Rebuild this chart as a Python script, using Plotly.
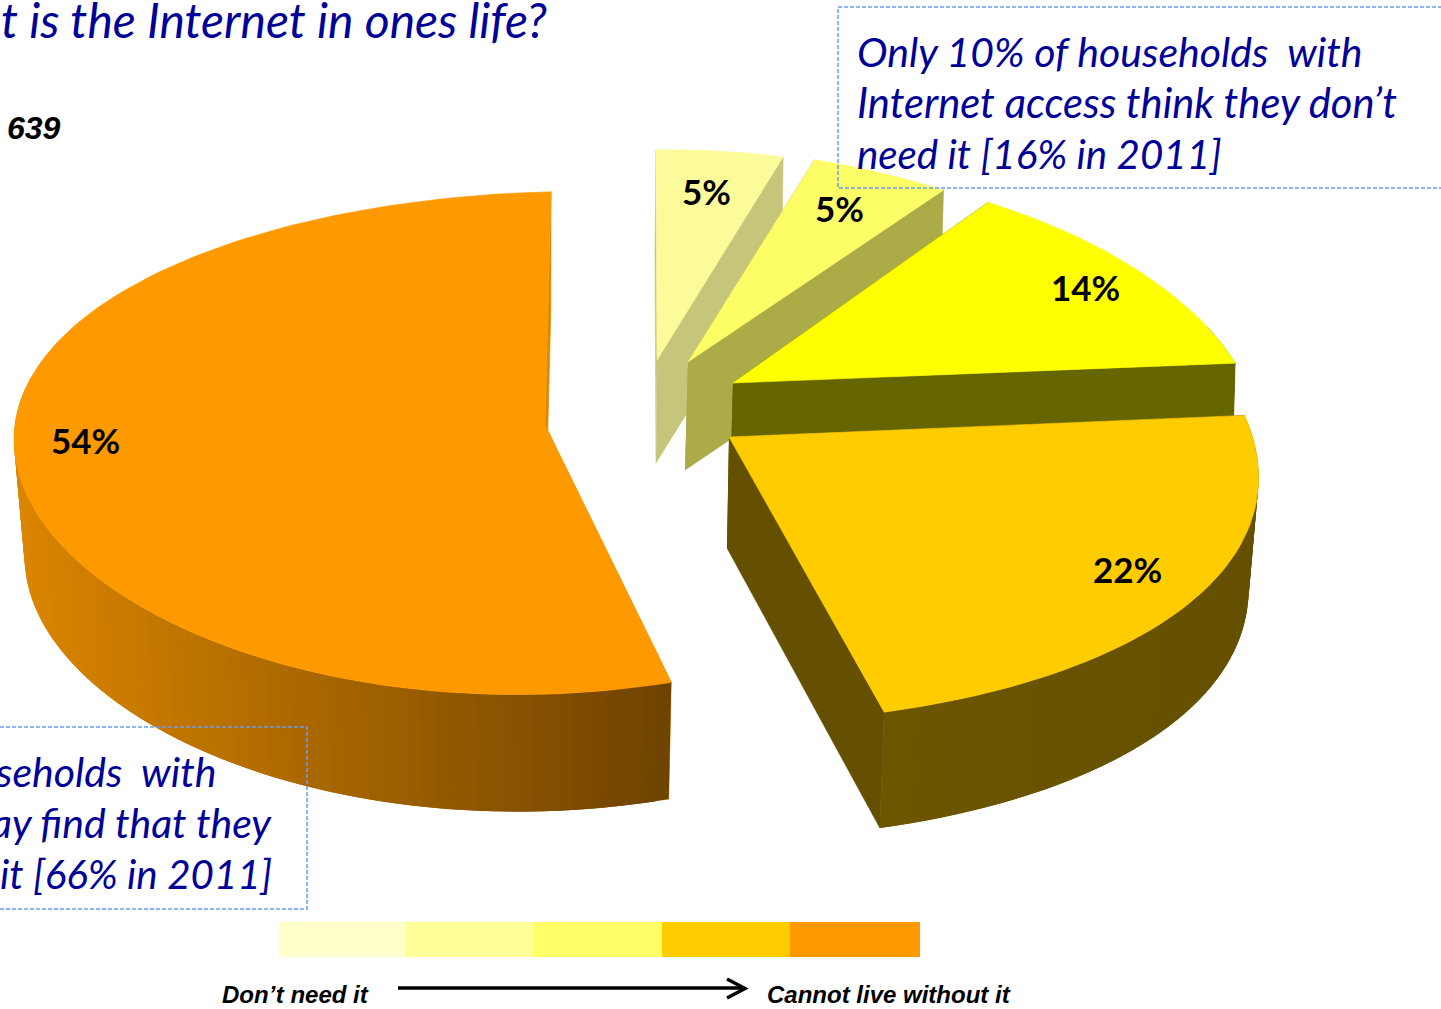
import numpy as np
import plotly.graph_objects as go

# Survey shares, listed from the back of the pie to the front
slice_labels = ["5%", "5%", "14%", "22%", "54%"]
slice_values = [5, 5, 14, 22, 54]
top_colors = ["#FBFB99", "#FDFD66", "#FFFF00", "#FFCC00", "#FF9900"]
wall_colors_left = ["#C6C67A", "#ABAB47", "#666600", "#6E5600", "#DB8500"]
wall_colors_right = ["#C6C67A", "#ABAB47", "#666600", "#645000", "#6E4200"]
cut_colors = ["#C6C67A", "#ABAB47", "#666600", "#645000", "#D98A00"]

# Rating scale shown below the pie
scale_colors = ["#FFFFCC", "#FFFF99", "#FFFF66", "#FFCC00", "#FF9900"]
scale_edges = [279, 406, 534, 662, 790, 920]
scale_low = "Don’t need it"
scale_high = "Cannot live without it"

# Projection of each exploded slice: apex, radii, perspective, shear and wall depth
GEOMETRY = [
    dict(x0=657, y0=360, a=497, b=224.7, kx=0.22, ky=0.07, s=-1, t=-8.7, d=103, dx=-1, tx=1.0, ty=1.0),
    dict(x0=688, y0=362, a=525, b=228.6, kx=0.22, ky=0.07, s=-8, t=5.3, d=108, dx=-3, tx=1.0, ty=1.0),
    dict(x0=733, y0=383, a=510, b=231.7, kx=0.217, ky=0.07, s=0, t=-5.4, d=108, dx=-3, tx=1.0, ty=1.0),
    dict(x0=729, y0=437, a=522, b=266, kx=0.169, ky=0.07, s=0, t=-5, d=111, dx=-2, tx=0.985, ty=1.018),
    dict(x0=545, y0=425, a=531, b=250, kx=0.0, ky=0.072, s=6, t=-12, d=117, dx=0, tx=0.98, ty=1.0),
]

LABEL_POS = [(706, 191), (839, 208), (1085, 287), (1127, 569), (85, 440)]
BLUE = "#000099"
BOX_BLUE = "#6C9AEE"


def project(g, theta, bottom=False):
    """Map clockwise angles on the pie circle to page coordinates."""
    X, Y = np.sin(theta), np.cos(theta)
    px = g["a"] * X / (1 + g["kx"] * Y) + g["s"] * Y
    py = -g["b"] * Y / (1 + g["ky"] * Y) + g["t"] * X
    if bottom:
        return g["x0"] + g["dx"] + px * g["tx"], g["y0"] + py * g["ty"] + g["d"]
    return g["x0"] + px, g["y0"] + py


def polygon(xs, ys, color, width=0.6):
    return go.Scatter(
        x=list(xs), y=list(ys), mode="lines", fill="toself", fillcolor=color,
        line=dict(color=color, width=width), hoverinfo="skip", showlegend=False,
    )


def mix(c1, c2, f):
    a = [int(c1[i:i + 2], 16) for i in (1, 3, 5)]
    b = [int(c2[i:i + 2], 16) for i in (1, 3, 5)]
    return "rgb(%d,%d,%d)" % tuple(round(p + (q - p) * f) for p, q in zip(a, b))


fig = go.Figure()
total = sum(slice_values)
start = 0.0
for i, value in enumerate(slice_values):
    g = GEOMETRY[i]
    end = start + value / total * 2 * np.pi
    thetas = np.linspace(start, end, max(int(value * 2.4), 16))

    # Straight cut faces on both sides of the slice
    for edge in (start, end):
        ex, ey = project(g, edge)
        bx, by = project(g, edge, bottom=True)
        fig.add_trace(polygon(
            [g["x0"], ex, bx, g["x0"] + g["dx"]],
            [g["y0"], ey, by, g["y0"] + g["d"]],
            cut_colors[i],
        ))

    # Outer wall on the near side, shaded left to right in overlapping strips
    tx, ty = project(g, thetas)
    bx, by = project(g, thetas, bottom=True)
    lo, hi = tx.min(), tx.max()
    for j in range(len(thetas) - 1):
        if np.cos(thetas[j]) > 0.2 and np.cos(thetas[j + 1]) > 0.2:
            continue
        n = min(j + 2, len(thetas) - 1)
        f = ((tx[j] + tx[j + 1]) / 2 - lo) / max(hi - lo, 1)
        color = mix(wall_colors_left[i], wall_colors_right[i], f)
        fig.add_trace(polygon(
            [tx[j], tx[j + 1], tx[n], bx[n], bx[j + 1], bx[j]],
            [ty[j], ty[j + 1], ty[n], by[n], by[j + 1], by[j]],
            color, width=0,
        ))

    # Top face
    fig.add_trace(polygon(
        [g["x0"], *tx, g["x0"]], [g["y0"], *ty, g["y0"]], top_colors[i],
    ))
    start = end

shapes = []
# Dashed call-out frames
for x0, y0, x1, y1 in [(838, 7, 1470, 188), (-30, 727, 307, 909)]:
    shapes.append(dict(type="rect", xref="x", yref="y", x0=x0, y0=y0, x1=x1, y1=y1,
                       line=dict(color=BOX_BLUE, width=1.5, dash="4px,2px")))
# Colour scale
for k, color in enumerate(scale_colors):
    shapes.append(dict(type="rect", xref="x", yref="y", x0=scale_edges[k], x1=scale_edges[k + 1],
                       y0=922, y1=957, line=dict(width=0), fillcolor=color))
# Scale arrow
shapes.append(dict(type="line", xref="x", yref="y", x0=398, y0=988, x1=744, y1=988,
                   line=dict(color="black", width=3.5)))
shapes.append(dict(type="path", xref="x", yref="y", path="M 727 979 L 745 988.5 L 727 998",
                   line=dict(color="black", width=3.5)))


def text(x, y, s, font, size, color="black", anchor="left", bold=False, italic=False):
    if bold:
        s = "<b>%s</b>" % s
    if italic:
        s = "<i>%s</i>" % s
    return dict(x=x, y=y, xref="x", yref="y", text=s, showarrow=False, xanchor=anchor,
                yanchor="middle", font=dict(family=font, size=size, color=color))


annotations = []
for label, (lx, ly) in zip(slice_labels, LABEL_POS):
    annotations.append(text(lx, ly, label, "Lato", 35, anchor="center", bold=True))

annotations.append(text(549, 19, "t is the Internet in ones life?", "Lato", 48, BLUE, "right", italic=True))
annotations.append(text(5, 128, "639", "Liberation Sans", 32, anchor="left", bold=True, italic=True))

for y, size, line in [(51, 41, "Only 10% of households &nbsp;with"),
                      (102, 41.7, "Internet access think they don’t"),
                      (153, 40.3, "need it [16% in 2011]")]:
    annotations.append(text(855, y, line, "Lato", size, BLUE, italic=True))

for x, y, size, line in [(218, 771, 41, "seholds &nbsp;with"),
                         (274, 822, 41, "ay find that they"),
                         (274, 873, 40.3, "it [66% in 2011]")]:
    annotations.append(text(x, y, line, "Lato", size, BLUE, "right", italic=True))

annotations.append(text(220, 994, scale_low, "Liberation Sans", 24, bold=True, italic=True))
annotations.append(text(765, 994, scale_high, "Liberation Sans", 24, bold=True, italic=True))

fig.update_layout(
    width=1441, height=1009, autosize=False,
    margin=dict(l=0, r=0, t=0, b=0),
    paper_bgcolor="white", plot_bgcolor="white",
    xaxis=dict(range=[0, 1441], visible=False, fixedrange=True),
    yaxis=dict(range=[1009, 0], visible=False, fixedrange=True),
    shapes=shapes, annotations=annotations, showlegend=False,
)
fig.write_html("out.html", config=dict(displayModeBar=False))
